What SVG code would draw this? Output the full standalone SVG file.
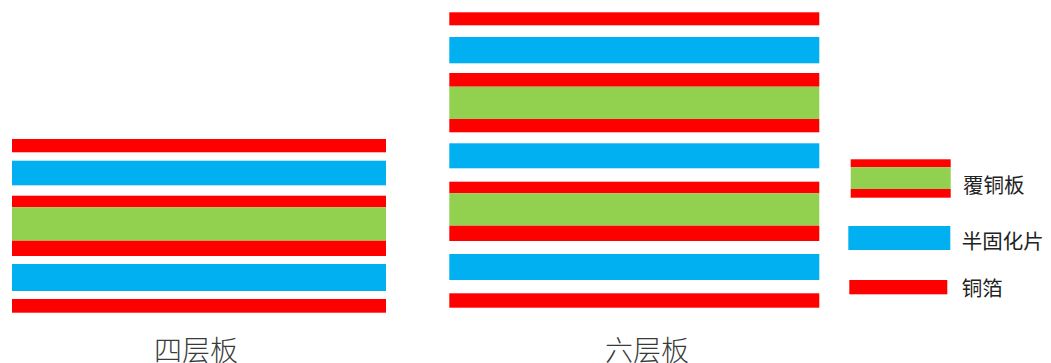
<svg xmlns="http://www.w3.org/2000/svg" width="1051" height="363" viewBox="0 0 1051 363">
<style>
.r{fill:#ff0000}
.b{fill:#00b0f0}
.g{fill:#92d050}
.t{font-family:"Noto Sans CJK SC","Liberation Sans",sans-serif;fill:#222}
.cap{font-size:28px;fill:#3a3a3a;font-weight:300}
.lg{font-size:20.5px}
</style>
<rect width="1051" height="363" fill="#fff"/>
<g id="four-layer">
<rect class="r" x="12" y="139" width="374" height="13.3"/>
<rect class="b" x="12" y="160.7" width="374" height="24.6"/>
<rect class="r" x="12" y="195.7" width="374" height="11.6"/>
<rect class="g" x="12" y="207.3" width="374" height="33.4"/>
<rect class="r" x="12" y="240.7" width="374" height="15.3"/>
<rect class="b" x="12" y="264" width="374" height="27"/>
<rect class="r" x="12" y="299" width="374" height="13.7"/>
<text class="t cap" x="154" y="361">四层板</text>
</g>
<g id="six-layer">
<rect class="r" x="449.3" y="12.3" width="370" height="13"/>
<rect class="b" x="449.3" y="37" width="370" height="26.3"/>
<rect class="r" x="449.3" y="73" width="370" height="13.7"/>
<rect class="g" x="449.3" y="86.7" width="370" height="32.3"/>
<rect class="r" x="449.3" y="119" width="370" height="13.3"/>
<rect class="b" x="449.3" y="143.3" width="370" height="25"/>
<rect class="r" x="449.3" y="181.7" width="370" height="11.6"/>
<rect class="g" x="449.3" y="193.3" width="370" height="32.4"/>
<rect class="r" x="449.3" y="225.7" width="370" height="15.3"/>
<rect class="b" x="449.3" y="254" width="370" height="26"/>
<rect class="r" x="449.3" y="293.3" width="370" height="14.4"/>
<text class="t cap" x="605" y="361">六层板</text>
</g>
<g id="legend-ccl">
<rect class="r" x="850.7" y="159.3" width="100" height="8"/>
<rect class="g" x="850.7" y="167.3" width="100" height="21.7"/>
<rect class="r" x="850.7" y="189" width="100" height="8.7"/>
<text class="t lg" x="963" y="193">覆铜板</text>
</g>
<g id="legend-prepreg">
<rect class="b" x="848.3" y="226" width="102" height="24"/>
<text class="t lg" x="961.7" y="249">半固化片</text>
</g>
<g id="legend-foil">
<rect class="r" x="849.3" y="280" width="98" height="14.3"/>
<text class="t lg" x="961.7" y="296">铜箔</text>
</g>
<g id="connectors"/>
</svg>
